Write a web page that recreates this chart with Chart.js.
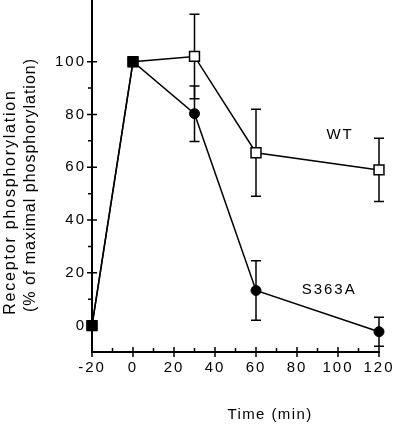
<!DOCTYPE html>
<html>
<head>
<meta charset="utf-8">
<script src="https://cdn.jsdelivr.net/npm/chart.js@4.4.1/dist/chart.umd.min.js"></script>
<style>
    html, body { margin: 0; padding: 0; background: #fff; }
    canvas { display: block; }
</style>
</head>
<body>
<canvas id="graphic__phospho" width="400" height="428"></canvas>
<script>
// values
const times = [-20, 0, 30, 60, 120];
const wtValues = [0, 100, 102, 65.5, 59];
const wtErrors = [0, 0, 16, 16.5, 12];
const s363aValues = [0, 100, 80.3, 13.3, -2.3];
const s363aErrors = [0, 0, 10.5, 11.3, 5.5];

const xTickLabels = [-20, 0, 20, 40, 60, 80, 100, 120];
const xMinorTicks = [-10, 10, 30, 50, 70, 90, 110];
const yTickLabels = [0, 20, 40, 60, 80, 100];
const yMinorTicks = [10, 30, 50, 70, 90];

const seriesNames = ['WT', 'S363A'];
const seriesNameAt = [[101, 72.3], [95.7, 13.6]]; // in data units
const yTitle = ['Receptor phosphorylation', '(% of maximal phosphorylation)'];
const xTitle = 'Time (min)';

const FONT = '"Liberation Sans", Arial, Helvetica, sans-serif';

const drawErrors = (chart, values, errors) => {
    const { ctx, scales: { x, y } } = chart;
    ctx.save();
    ctx.strokeStyle = '#000';
    ctx.lineWidth = 1.5;
    for (let i = 0; i < times.length; i++) {
        if (!errors[i]) continue;
        const px = x.getPixelForValue(times[i]);
        const top = y.getPixelForValue(values[i] + errors[i]);
        const bot = y.getPixelForValue(values[i] - errors[i]);
        ctx.beginPath();
        ctx.moveTo(px, top); ctx.lineTo(px, bot);
        ctx.moveTo(px - 5, top); ctx.lineTo(px + 5, top);
        ctx.moveTo(px - 5, bot); ctx.lineTo(px + 5, bot);
        ctx.stroke();
    }
    ctx.restore();
}

const figurePlugin = {
    id: 'figure',
    beforeDraw(chart) {
        chart.ctx.letterSpacing = '2px';
    },
    beforeDatasetsDraw(chart) {
        drawErrors(chart, wtValues, wtErrors);
        drawErrors(chart, s363aValues, s363aErrors);
    },
    afterDraw(chart) {
        const { ctx, chartArea, scales: { x, y } } = chart;
        const ax = chartArea.left, ay = chartArea.bottom;
        ctx.save();
        ctx.strokeStyle = '#000';
        ctx.lineWidth = 1.5;
        ctx.beginPath();
        yTickLabels.forEach(v => { const p = y.getPixelForValue(v); ctx.moveTo(ax - 5, p); ctx.lineTo(ax + 5, p); });
        yMinorTicks.forEach(v => { const p = y.getPixelForValue(v); ctx.moveTo(ax - 4, p); ctx.lineTo(ax, p); });
        xTickLabels.forEach(v => { const p = x.getPixelForValue(v); ctx.moveTo(p, ay - 5); ctx.lineTo(p, ay + 5); });
        xMinorTicks.forEach(v => { const p = x.getPixelForValue(v); ctx.moveTo(p, ay - 4); ctx.lineTo(p, ay); });
        ctx.stroke();

        ctx.fillStyle = '#000';
        // series names
        ctx.font = '15px ' + FONT;
        ctx.letterSpacing = '2px';
        ctx.textAlign = 'center';
        ctx.textBaseline = 'middle';
        seriesNames.forEach((name, i) => {
            ctx.fillText(name, x.getPixelForValue(seriesNameAt[i][0]), y.getPixelForValue(seriesNameAt[i][1]));
        });

        // x title
        ctx.textBaseline = 'alphabetic';
        ctx.letterSpacing = '1.4px';
        ctx.fillText(xTitle, 270, 419);

        // y title, two rotated lines
        ctx.font = '16px ' + FONT;
        [[15, 202, '1.8px'], [35, 185, '1px']].forEach(([tx, ty, sp], i) => {
            ctx.save();
            ctx.letterSpacing = sp;
            ctx.translate(tx, ty);
            ctx.rotate(-Math.PI / 2);
            ctx.fillText(yTitle[i], 0, 0);
            ctx.restore();
        });
        ctx.restore();
    }
};

const ctx = document.querySelector('#graphic__phospho').getContext('2d');

const config = {
    type: 'line',
    data: {
        datasets: [
            {
                label: 'S363A',
                data: times.map((t, i) => ({ x: t, y: s363aValues[i] })),
                borderColor: '#000',
                borderWidth: 1.5,
                pointStyle: ['rect', 'rect', 'circle', 'circle', 'circle'],
                pointRadius: [7, 7, 5, 5, 5],
                pointBackgroundColor: '#000',
                pointBorderColor: '#000',
                pointBorderWidth: 1,
                tension: 0,
                clip: false,
            },
            {
                label: 'WT',
                data: times.map((t, i) => ({ x: t, y: wtValues[i] })),
                borderColor: '#000',
                borderWidth: 1.5,
                pointStyle: 'rect',
                pointRadius: 7,
                pointBackgroundColor: ['#000', '#000', '#fff', '#fff', '#fff'],
                pointBorderColor: '#000',
                pointBorderWidth: 1.5,
                tension: 0,
                clip: false,
            }
        ]
    },
    options: {
        responsive: false,
        animation: false,
        events: [],
        layout: { autoPadding: false, padding: { left: 0, right: 21, top: 1, bottom: 0 } },
        plugins: {
            legend: { display: false },
            tooltip: { enabled: false }
        },
        scales: {
            x: {
                type: 'linear',
                min: -20,
                max: 120,
                afterBuildTicks: s => { s.ticks = xTickLabels.map(v => ({ value: v })); },
                afterFit: s => {
                    s.height = 76;
                    s.paddingLeft = 0;
                    s.paddingRight = 0;
                },
                grid: { display: false, drawTicks: false },
                border: { display: true, color: '#000', width: 2 },
                ticks: {
                    color: '#000',
                    padding: 7,
                    maxRotation: 0,
                    font: { size: 15, family: FONT }
                }
            },
            y: {
                type: 'linear',
                min: -10,
                max: 123,
                afterBuildTicks: s => { s.ticks = yTickLabels.map(v => ({ value: v })); },
                afterFit: s => {
                    s.width = 92;
                    // no room reserved above/below for the tick labels
                    s.paddingTop = 0;
                    s.paddingBottom = 0;
                },
                grid: { display: false, drawTicks: false },
                border: { display: true, color: '#000', width: 2 },
                ticks: {
                    color: '#000',
                    padding: 6,
                    font: { size: 15, family: FONT }
                }
            }
        }
    },
    plugins: [figurePlugin]
};

const myChart = new Chart(ctx, config);
</script>
</body>
</html>
